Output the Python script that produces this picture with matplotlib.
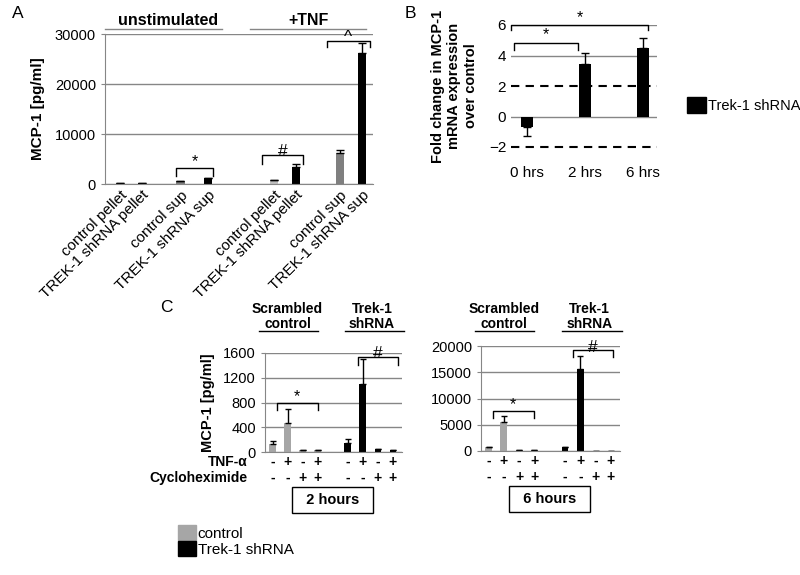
import numpy as np
import matplotlib
matplotlib.use('Agg')
import matplotlib.pyplot as plt
from matplotlib.patches import Patch
import matplotlib.transforms as mtrans

plt.rcParams['font.family'] = ['Liberation Sans', 'DejaVu Sans']

#%% Data
# panel A
a_labels    = ['control pellet', 'TREK-1 shRNA pellet', 'control sup', 'TREK-1 shRNA sup',
               'control pellet', 'TREK-1 shRNA pellet', 'control sup', 'TREK-1 shRNA sup']
a_values    = [250, 200, 600, 1300, 900, 3500, 6200, 26300]
a_err       = [0, 0, 0, 0, 0, 600, 700, 1900]
a_yticks    = [0, 10000, 20000, 30000]

# panel B
b_labels    = ['0 hrs', '2 hrs', '6 hrs']
b_values    = [-0.7, 3.45, 4.5]
b_err_low   = [0.55, 0, 0]
b_err_high  = [0, 0.7, 0.65]
b_yticks    = [-2, 0, 2, 4, 6]

# panel C
tnf         = ['-', '+', '-', '+', '-', '+', '-', '+']
chx         = ['-', '-', '+', '+', '-', '-', '+', '+']
c2h_values  = [130, 475, 40, 40, 140, 1100, 55, 35]
c2h_err     = [50, 220, 0, 0, 65, 400, 0, 0]
c6h_values  = [700, 5500, 250, 150, 750, 15700, 50, 50]
c6h_err     = [150, 1250, 0, 0, 0, 2400, 0, 0]
c2h_yticks  = [0, 400, 800, 1200, 1600]
c6h_yticks  = [0, 5000, 10000, 15000, 20000]

GRID  = '#868686'
GRAY  = '#7f7f7f'
LGRAY = '#bfbfbf'
CGRAY = '#a6a6a6'

W, H = 800, 575
fig = plt.figure(figsize=(W/100, H/100), dpi=100)

def add_ax(x0, y0, x1, y1):
    return fig.add_axes([x0/W, 1 - y1/H, (x1 - x0)/W, (y1 - y0)/H])

def bracket(ax, x1, x2, y, y_end, label, ly, size=11.5):
    ax.plot([x1, x1, x2, x2], [y_end, y, y, y_end], color='black', lw=1, clip_on=False)
    ax.text((x1 + x2)/2, ly, label, ha='center', va='center', fontsize=size, clip_on=False)

def style(ax):
    for s in ['top', 'right']:
        ax.spines[s].set_visible(False)
    ax.spines['left'].set_color(GRID)
    ax.spines['bottom'].set_color(GRID)
    ax.yaxis.grid(True, color=GRID, lw=1)
    ax.set_axisbelow(True)
    ax.tick_params(axis='y', length=3, color=GRID, labelsize=10.5)
    ax.tick_params(axis='x', length=0)

#%% Panel A
axA = add_ax(105, 34, 373, 184)
a_pos = [0, 1, 2.75, 4, 7, 8, 10, 11]
a_colors = [GRAY, 'black', GRAY, 'black', LGRAY, 'black', GRAY, 'black']
axA.bar(a_pos, a_values, width=0.38, color=a_colors,
        yerr=[np.zeros(len(a_err)), a_err], capsize=3,
        error_kw=dict(elinewidth=1, capthick=1))
style(axA)
axA.set_xlim(-0.68, 11.5)
axA.set_ylim(0, 30000)
axA.set_yticks(a_yticks)
axA.set_xticks(a_pos, a_labels, rotation=45, ha='right', rotation_mode='anchor', fontsize=11)
axA.tick_params(axis='x', pad=3)
axA.set_ylabel('MCP-1 [pg/ml]', fontsize=11, fontweight='bold', labelpad=7)

bracket(axA, 2.55, 4.25, 3200, 1600, '*', 4400)
bracket(axA, 6.45, 8.3, 5800, 4000, '#', 6600, size=12.5)
bracket(axA, 9.4, 11.35, 28700, 27400, '^', 29400, size=12.5)

axA.plot([-0.68, 4.64], [31000, 31000], color=GRID, lw=1, clip_on=False)
axA.plot([5.9, 11.2], [31000, 31000], color=GRID, lw=1, clip_on=False)
axA.text(2.18, 31200, 'unstimulated', ha='center', va='bottom', fontsize=11.5, fontweight='bold')
axA.text(8.55, 31200, '+TNF', ha='center', va='bottom', fontsize=11.5, fontweight='bold')
fig.text(12/W, 1 - 14/H, 'A', fontsize=12.5, va='center')

#%% Panel B
axB = add_ax(511, 25, 657, 147)
b_pos = np.arange(len(b_values))
axB.bar(b_pos, b_values, width=0.2, color='black',
        yerr=[b_err_low, b_err_high], capsize=3,
        error_kw=dict(elinewidth=1, capthick=1))
for s in axB.spines.values():
    s.set_visible(False)
for yv in [6, 4, 0]:
    axB.axhline(yv, color=GRID, lw=1, zorder=0)
for yv in [2, -2]:
    axB.axhline(yv, color='black', lw=1.5, ls=(0, (4, 3)), zorder=0.5, clip_on=False)
axB.set_xlim(-0.27, 2.24)
axB.set_ylim(-2, 6)
axB.set_yticks(b_yticks)
axB.set_xticks(b_pos, b_labels)
axB.tick_params(axis='both', length=0, labelsize=11)
axB.tick_params(axis='x', pad=14)
axB.set_ylabel('Fold change in MCP-1\nmRNA expression\nover control', fontsize=10.5,
               fontweight='bold', labelpad=8, linespacing=1.2)
bracket(axB, -0.22, 0.89, 4.8, 4.35, '*', 5.35)
bracket(axB, -0.27, 2.09, 6.0, 5.65, '*', 6.5)
axB.legend(handles=[Patch(color='black', label='Trek-1 shRNA')], loc='center left',
           bbox_to_anchor=(680/W, 1 - 105/H), bbox_transform=fig.transFigure,
           frameon=False, fontsize=10.5, handlelength=1.3, handleheight=1.25,
           handletextpad=0.1, borderpad=0)
fig.text(405/W, 1 - 14/H, 'B', fontsize=12.5, va='center')

#%% Panel C
c_pos = [0, 1, 2, 3, 5, 6, 7, 8]
c_colors = [CGRAY]*4 + ['black']*4

def panel_c(ax, values, err, yticks, hours, head_y, star, hash_):
    ax.bar(c_pos, values, width=0.45, color=c_colors,
           yerr=[np.zeros(len(err)), err], capsize=2.5,
           error_kw=dict(elinewidth=1, capthick=1))
    style(ax)
    ax.set_xlim(-0.5, 8.6)
    ax.set_ylim(0, yticks[-1])
    ax.set_yticks(yticks)
    ax.set_xticks([])
    trans = mtrans.blended_transform_factory(ax.transData, ax.transAxes)
    for x, t, c in zip(c_pos, tnf, chx):
        ax.annotate(t, (x, 0), xycoords=trans, xytext=(0, -10), textcoords='offset pixels',
                    ha='center', va='center', fontsize=10, fontweight='bold')
        ax.annotate(c, (x, 0), xycoords=trans, xytext=(0, -26), textcoords='offset pixels',
                    ha='center', va='center', fontsize=10, fontweight='bold')
    ax.annotate(hours, (4.0, 0), xycoords=trans, xytext=(0, -48), textcoords='offset pixels',
                ha='center', va='center', fontsize=10.5, fontweight='bold',
                bbox=dict(boxstyle='square,pad=0.4', fc='white', ec='black', lw=1))
    # group headers
    ax.text(1.0, head_y, 'Scrambled\ncontrol', ha='center', va='bottom', fontsize=10,
            fontweight='bold', linespacing=1.05)
    ax.text(6.6, head_y, 'Trek-1\nshRNA', ha='center', va='bottom', fontsize=10,
            fontweight='bold', linespacing=1.05)
    ax.plot([-0.9, 3.0], [head_y, head_y], color='black', lw=1, clip_on=False)
    ax.plot([4.8, 8.7], [head_y, head_y], color='black', lw=1, clip_on=False)
    bracket(ax, *star, '*', star[3] + (star[2] - star[3]) * 1.9)
    bracket(ax, *hash_, '#', hash_[2] + (hash_[2] - hash_[3]) * 0.45, size=12.5)

axC1 = add_ax(265, 353, 402, 452)
panel_c(axC1, c2h_values, c2h_err, c2h_yticks, '  2 hours  ', 1960,
        (0.27, 3.0, 795, 680), (5.67, 8.33, 1535, 1400))
axC1.set_ylabel('MCP-1 [pg/ml]', fontsize=10.5, fontweight='bold', labelpad=6)
fig.text(248/W, 1 - 462/H, 'TNF-α', ha='right', va='center', fontsize=10, fontweight='bold')
fig.text(248/W, 1 - 478/H, 'Cycloheximide', ha='right', va='center', fontsize=10,
         fontweight='bold')

axC2 = add_ax(481, 346, 620, 451)
panel_c(axC2, c6h_values, c6h_err, c6h_yticks, '  6 hours  ', 22860,
        (0.26, 2.95, 7600, 6300), (5.5, 8.15, 19200, 17900))
fig.text(160/W, 1 - 307/H, 'C', fontsize=12.5, va='center')

fig.legend(handles=[Patch(color=CGRAY, label='control'),
                    Patch(color='black', label='Trek-1 shRNA')],
           loc='upper left', bbox_to_anchor=(178/W, 1 - 525/H), frameon=False,
           fontsize=11, handlelength=1.15, handleheight=1.15, handletextpad=0.15,
           labelspacing=0.0, borderpad=0, borderaxespad=0)

fig.savefig('out.png', dpi=100)
